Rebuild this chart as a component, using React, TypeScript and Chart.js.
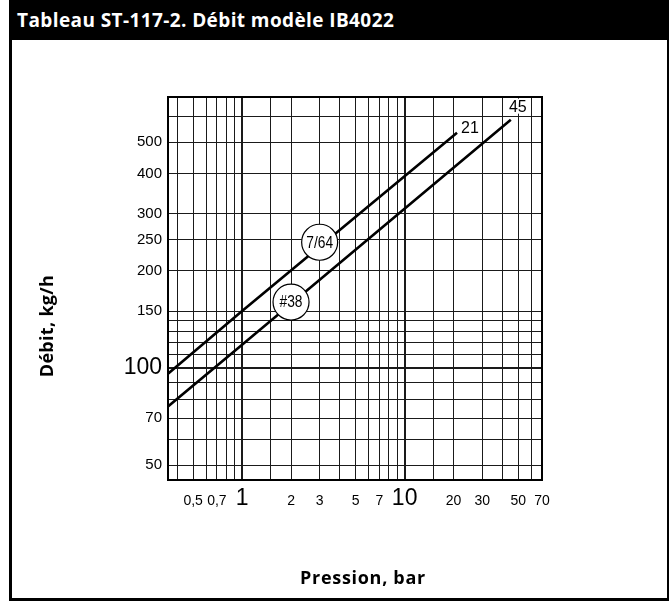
import React, { useEffect, useRef } from 'react';
import { Chart, registerables } from 'chart.js';

Chart.register(...registerables);

// ---- Data ----
const xTickValues = [0.4, 0.5, 0.6, 0.7, 0.8, 0.9, 1, 1.5, 2, 3, 4, 5, 6, 7, 8, 9, 10, 15, 20, 30, 40, 50, 60, 70];
const xLabelValues = [0.5, 0.7, 1, 2, 3, 5, 7, 10, 20, 30, 50, 70];
const xLabelTexts = ['0,5', '0,7', '1', '2', '3', '5', '7', '10', '20', '30', '50', '70'];
const xMajorValues = [1, 10];

const yTickValues = [50, 60, 70, 80, 90, 100, 110, 120, 130, 140, 150, 200, 250, 300, 400, 500, 600];
const yLabelValues = [50, 70, 100, 150, 200, 250, 300, 400, 500];
const yLabelTexts = ['50', '70', '100', '150', '200', '250', '300', '400', '500'];
const yMajorValues = [100];

const seriesNames = ['7/64', '#38'];
const seriesEndLabels = ['21', '45'];
const pressure764 = [0.35, 1, 21];
const flow764 = [96, 150, 535];
const pressure38 = [0.35, 1, 45];
const flow38 = [76, 118, 587];
const badgePressure = [3, 2];
const badgeFlow = [245, 160];

const xMin = 0.35;
const xMax = 70;
const yMin = 45;
const yMax = 690;

const TICK_FONT = "'Liberation Sans', Arial, Helvetica, sans-serif";
const TITLE_FONT = "'Open Sans', Lato, 'Noto Sans', sans-serif";

const seriesPressure = [pressure764, pressure38];
const seriesFlow = [flow764, flow38];

const annotationPlugin = {
  id: 'annotations',
  afterDatasetsDraw(chart: any) {
    const { ctx, chartArea, scales } = chart;
    const xs = scales.x;
    const ys = scales.y;
    ctx.save();
    // plot frame
    ctx.lineWidth = 2;
    ctx.strokeStyle = '#000';
    ctx.strokeRect(chartArea.left, chartArea.top, chartArea.right - chartArea.left, chartArea.bottom - chartArea.top);

    // end-of-line labels
    const offsets = [[13, -5], [7, -13]];
    ctx.font = `16px ${TICK_FONT}`;
    ctx.textAlign = 'center';
    ctx.textBaseline = 'middle';
    seriesEndLabels.forEach((lab, i) => {
      const p = seriesPressure[i];
      const f = seriesFlow[i];
      const px = xs.getPixelForValue(p[p.length - 1]) + offsets[i][0];
      const py = ys.getPixelForValue(f[f.length - 1]) + offsets[i][1];
      const w = ctx.measureText(lab).width;
      ctx.fillStyle = '#fff';
      ctx.fillRect(px - w / 2 - 2, py - 8, w + 4, 15);
      ctx.fillStyle = '#000';
      ctx.fillText(lab, px, py + 1);
    });

    // circled series names
    seriesNames.forEach((name, i) => {
      const cx = xs.getPixelForValue(badgePressure[i]);
      const cy = ys.getPixelForValue(badgeFlow[i]);
      ctx.beginPath();
      ctx.arc(cx, cy, 18, 0, Math.PI * 2);
      ctx.fillStyle = '#fff';
      ctx.fill();
      ctx.lineWidth = 1.2;
      ctx.strokeStyle = '#000';
      ctx.stroke();
      ctx.save();
      ctx.translate(cx, cy + 1);
      ctx.scale(0.86, 1);
      ctx.font = `16px ${TICK_FONT}`;
      ctx.fillStyle = '#000';
      ctx.fillText(name, 0, 0);
      ctx.restore();
    });
    ctx.restore();
  },
};

export default function App() {
  const canvasRef = useRef<HTMLCanvasElement>(null);

  useEffect(() => {
    const canvas = canvasRef.current;
    if (!canvas) return;
    const chart = new Chart(canvas, {
      type: 'scatter',
      data: {
        datasets: seriesNames.map((name, i) => ({
          label: name,
          data: seriesPressure[i].map((p, j) => ({ x: p, y: seriesFlow[i][j] })),
          showLine: true,
          borderColor: '#000',
          backgroundColor: '#000',
          borderWidth: 2.6,
          pointRadius: 0,
          pointHoverRadius: 0,
        })),
      },
      options: {
        responsive: false,
        animation: false,
        events: [],
        layout: { padding: { left: 108, right: 127, top: 97, bottom: 81 } },
        plugins: {
          legend: { display: false },
          tooltip: { enabled: false },
          title: { display: false },
        },
        scales: {
          x: {
            type: 'logarithmic',
            min: xMin,
            max: xMax,
            afterBuildTicks: (scale: any) => {
              scale.ticks = xTickValues.map((v) => ({ value: v }));
            },
            afterFit: (scale: any) => {
              scale.height = 40;
            },
            grid: {
              color: '#1a1a1a',
              lineWidth: (c: any) => (c.tick && xMajorValues.includes(c.tick.value) ? 2 : 1),
              drawTicks: false,
            },
            border: { display: false },
            ticks: {
              autoSkip: false,
              maxRotation: 0,
              minRotation: 0,
              padding: 13,
              color: '#000',
              font: (c: any) => {
                const big = c.tick && xMajorValues.includes(c.tick.value);
                return big
                  ? { family: TICK_FONT, size: 23, lineHeight: '12px' }
                  : { family: TICK_FONT, size: 14, lineHeight: 1.2 };
              },
              callback: (v: any) => {
                const idx = xLabelValues.indexOf(Number(v));
                return idx >= 0 ? xLabelTexts[idx] : '';
              },
            },
          },
          y: {
            type: 'logarithmic',
            min: yMin,
            max: yMax,
            afterBuildTicks: (scale: any) => {
              scale.ticks = yTickValues.map((v) => ({ value: v }));
            },
            afterFit: (scale: any) => {
              scale.width = 60;
            },
            grid: {
              color: '#1a1a1a',
              lineWidth: (c: any) => (c.tick && yMajorValues.includes(c.tick.value) ? 2 : 1),
              drawTicks: false,
            },
            border: { display: false },
            ticks: {
              autoSkip: false,
              padding: 6,
              color: '#000',
              font: (c: any) => {
                const big = c.tick && yMajorValues.includes(c.tick.value);
                return big
                  ? { family: TICK_FONT, size: 23 }
                  : { family: TICK_FONT, size: 15 };
              },
              callback: (v: any) => {
                const idx = yLabelValues.indexOf(Number(v));
                return idx >= 0 ? yLabelTexts[idx] : '';
              },
            },
          },
        },
      },
      plugins: [annotationPlugin],
    } as any);
    return () => chart.destroy();
  }, []);

  return (
    <div style={{ position: 'absolute', left: 0, top: 0, width: 669, height: 601, background: '#fff', overflow: 'hidden' }}>
      <canvas ref={canvasRef} width={669} height={601} style={{ position: 'absolute', left: 0, top: 0, width: 669, height: 601 }} />
      <div
        style={{
          position: 'absolute',
          left: 9,
          top: 0,
          width: 660,
          height: 601,
          boxSizing: 'border-box',
          borderLeft: '3px solid #000',
          borderBottom: '3px solid #000',
          borderRight: '2px solid #000',
          borderTop: '1px solid #555',
          pointerEvents: 'none',
        }}
      />
      <div
        style={{
          position: 'absolute',
          left: 9,
          top: 0,
          width: 660,
          height: 40,
          background: '#000',
          color: '#fff',
          fontFamily: TITLE_FONT,
          fontWeight: 700,
          fontSize: 19,
          letterSpacing: '0.4px',
          lineHeight: '40px',
          paddingLeft: 8,
          boxSizing: 'border-box',
          whiteSpace: 'nowrap',
        }}
      >
        Tableau ST-117-2. Débit modèle IB4022
      </div>
      <div
        style={{
          position: 'absolute',
          left: 263,
          top: 566,
          width: 200,
          textAlign: 'center',
          fontFamily: TITLE_FONT,
          fontWeight: 700,
          fontSize: 18,
          letterSpacing: '0.7px',
          lineHeight: '22px',
          color: '#000',
        }}
      >
        Pression, bar
      </div>
      <div
        style={{
          position: 'absolute',
          left: 46 - 100,
          top: 326 - 11,
          width: 200,
          textAlign: 'center',
          fontFamily: TITLE_FONT,
          fontWeight: 700,
          fontSize: 18,
          letterSpacing: '0.3px',
          lineHeight: '22px',
          color: '#000',
          transform: 'rotate(-90deg)',
          transformOrigin: '50% 50%',
        }}
      >
        Débit, kg/h
      </div>
    </div>
  );
}
